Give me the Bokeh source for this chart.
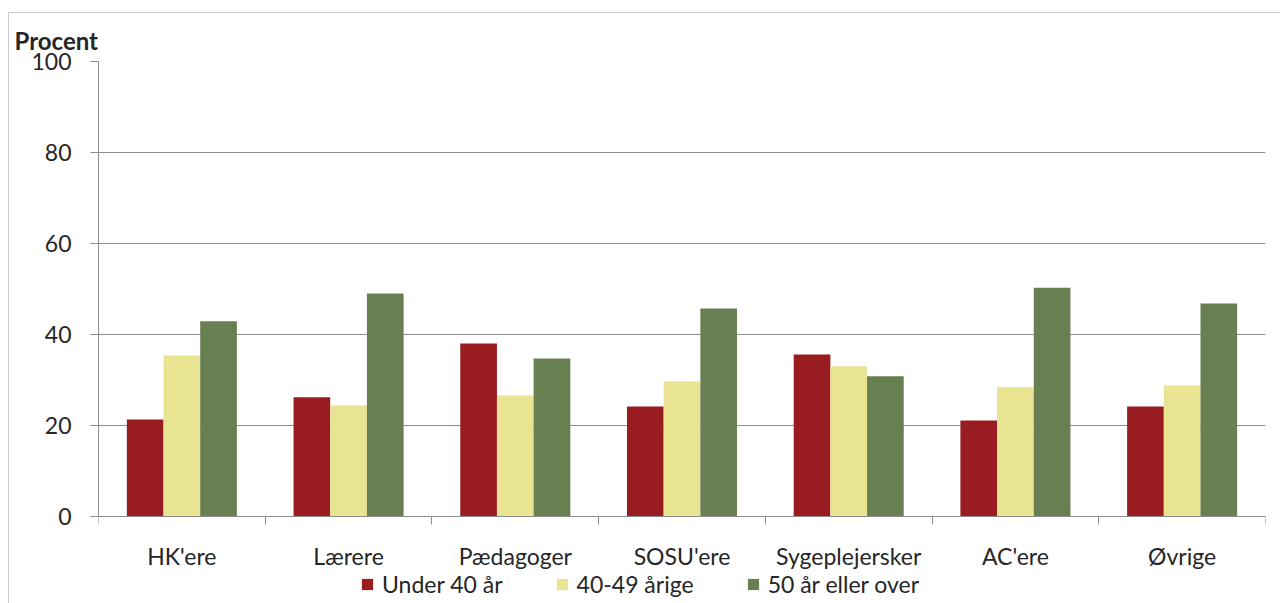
import numpy as np
from bokeh.plotting import figure
from bokeh.models import (ColumnDataSource, FixedTicker, Legend, LegendItem, Range1d)
from bokeh.embed import file_html
from bokeh.resources import INLINE

categories = ["HK'ere", "Lærere", "Pædagoger", "SOSU'ere", "Sygeplejersker", "AC'ere", "Øvrige"]
series_names = ["Under 40 år", "40-49 årige", "50 år eller over"]
under40 = [21.3, 26.2, 38.0, 24.2, 35.6, 21.1, 24.2]
age40_49 = [35.4, 24.4, 26.6, 29.7, 33.0, 28.4, 28.8]
over50 = [42.9, 49.0, 34.7, 45.7, 30.8, 50.3, 46.8]
y_ticks = [0, 20, 40, 60, 80, 100]

colors = ["#991C20", "#E8E492", "#687F52"]
FONT = "Lato"
TXT = "#262626"
GRID = "#8c8c8c"

centers = np.arange(len(categories)) + 0.5
bar_w = 0.22

# frame runs from the 100-line down to the bottom edge; the space below 0
# holds the category labels and the legend
PX_PER_UNIT = 4.55
y_low = -88 / PX_PER_UNIT

p = figure(width=1272, height=591, output_backend="svg", toolbar_location=None,
           x_range=Range1d(0, len(categories)), y_range=Range1d(y_low, 100),
           min_border_left=89, min_border_right=16, min_border_top=48,
           min_border_bottom=0)
p.margin = (12, 0, 0, 8)
p.styles = {"border-left": "1px solid #c8c8c8", "border-top": "1px solid #c8c8c8"}
p.outline_line_color = None
p.background_fill_color = "white"

p.title.text = "Procent"
p.title.align = "left"
p.title.offset = -84
p.title.text_font = FONT
p.title.text_font_style = "bold"
p.title.text_font_size = "24px"
p.title.text_color = TXT
p.title.standoff = 14

renderers = []
for i, (vals, col) in enumerate(zip([under40, age40_49, over50], colors)):
    src = ColumnDataSource(dict(x=centers + (i - 1) * bar_w, top=vals))
    r = p.vbar(x="x", top="top", width=bar_w, bottom=0, source=src,
               fill_color=col, line_color=None)
    renderers.append(r)

# y axis
p.yaxis.ticker = FixedTicker(ticks=y_ticks)
p.yaxis.bounds = (0, 100)
p.yaxis.axis_line_color = GRID
p.yaxis.major_tick_line_color = GRID
p.yaxis.major_tick_out = 8
p.yaxis.major_tick_in = 0
p.yaxis.minor_tick_line_color = None
p.yaxis.major_label_text_font = FONT
p.yaxis.major_label_text_font_size = "23px"
p.yaxis.major_label_text_color = TXT
p.yaxis.major_label_standoff = 19

# x axis at y = 0: labels at centres, ticks at boundaries
p.xaxis.fixed_location = 0
p.xaxis.ticker = FixedTicker(ticks=list(centers), minor_ticks=list(range(len(categories) + 1)))
p.xaxis.major_label_overrides = {float(c): lab for c, lab in zip(centers, categories)}
p.xaxis.major_tick_line_color = None
p.xaxis.major_tick_out = 0
p.xaxis.major_tick_in = 0
p.xaxis.minor_tick_line_color = GRID
p.xaxis.minor_tick_out = 8
p.xaxis.minor_tick_in = 0
p.xaxis.axis_line_color = GRID
p.xaxis.major_label_text_font = FONT
p.xaxis.major_label_text_font_size = "23px"
p.xaxis.major_label_text_color = TXT
p.xaxis.major_label_standoff = 17

p.xgrid.grid_line_color = None
p.ygrid.ticker = FixedTicker(ticks=y_ticks)
p.ygrid.grid_line_color = GRID
p.ygrid.grid_line_width = 1

legend = Legend(items=[LegendItem(label=n, renderers=[r]) for n, r in zip(series_names, renderers)],
                orientation="horizontal", location=(262, 6),
                glyph_width=14, glyph_height=14, label_standoff=8, spacing=52,
                padding=0, margin=0, border_line_color=None,
                background_fill_alpha=0, label_text_font=FONT,
                label_text_font_size="23px", label_text_color=TXT,
                label_height=20)
p.add_layout(legend, "center")

open("out.html", "w").write(file_html(p, INLINE))
